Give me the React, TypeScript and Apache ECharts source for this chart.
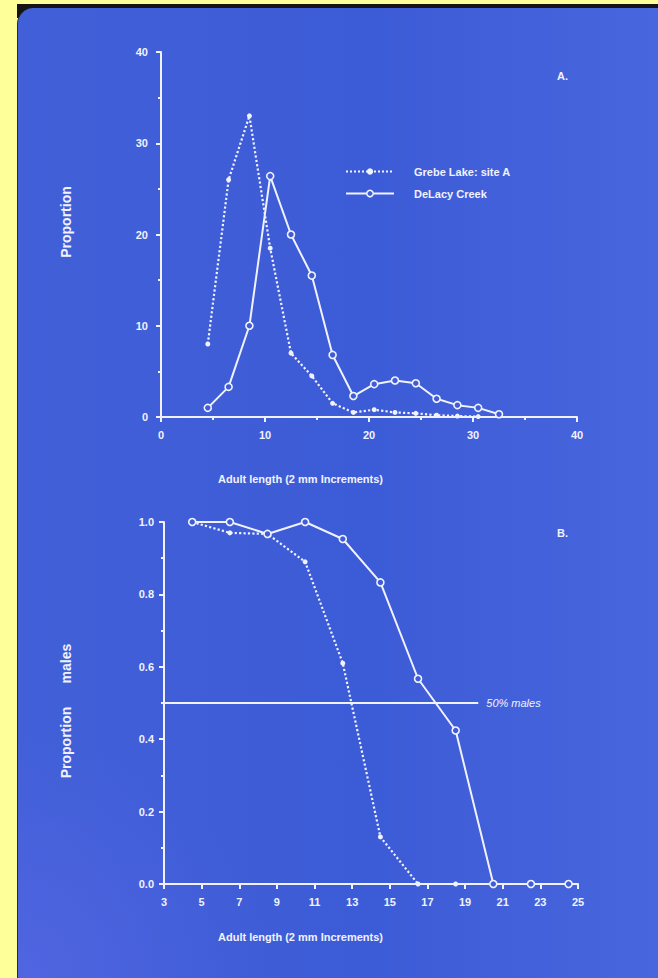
import React, { useEffect, useRef } from "react";
import * as echarts from "echarts";

// ---------- Panel A: length-frequency (proportion, %) ----------
const A_GREBE_X = [4.5, 6.5, 8.5, 10.5, 12.5, 14.5, 16.5, 18.5, 20.5, 22.5, 24.5, 26.5, 28.5, 30.5];
const A_GREBE_Y = [8, 26, 33, 18.5, 7, 4.5, 1.5, 0.5, 0.8, 0.5, 0.4, 0.2, 0.1, 0.05];
const A_DELACY_X = [4.5, 6.5, 8.5, 10.5, 12.5, 14.5, 16.5, 18.5, 20.5, 22.5, 24.5, 26.5, 28.5, 30.5, 32.5];
const A_DELACY_Y = [1, 3.3, 10, 26.4, 20, 15.5, 6.8, 2.3, 3.6, 4.0, 3.7, 2.0, 1.3, 1.0, 0.3];
const A_X_RANGE = [0, 40, 10];
const A_Y_RANGE = [0, 40, 10];

// ---------- Panel B: proportion males ----------
const B_GREBE_X = [4.5, 6.5, 8.5, 10.5, 12.5, 14.5, 16.5, 18.5];
const B_GREBE_Y = [1.0, 0.97, 0.967, 0.89, 0.61, 0.13, 0, 0];
const B_DELACY_X = [4.5, 6.5, 8.5, 10.5, 12.5, 14.5, 16.5, 18.5, 20.5, 22.5, 24.5];
const B_DELACY_Y = [1.0, 1.0, 0.967, 1.0, 0.953, 0.833, 0.567, 0.424, 0, 0, 0];
const B_X_RANGE = [3, 25, 2];
const B_Y_RANGE = [0, 1, 0.2];
const B_HALF_LINE = [3, 19.7, 0.5];

const SERIES_NAMES = ["Grebe Lake: site A", "DeLacy Creek"];
const X_TITLE = "Adult length (2 mm Increments)";

const FG = "#f1f2ff";
const BLUE = "#3f5dd7";
const FONT = "'Liberation Sans', Arial, sans-serif";

function axisBase(extra: any) {
  return {
    type: "value",
    axisLine: { show: true, lineStyle: { color: FG, width: 2 } },
    axisTick: { show: true, length: 5, lineStyle: { color: FG, width: 2 } },
    minorTick: { show: true, splitNumber: 2, length: 3, lineStyle: { color: FG, width: 2 } },
    splitLine: { show: false },
    axisLabel: { color: FG, fontSize: 11, fontWeight: "bold", fontFamily: FONT },
    ...extra,
  };
}

export default function App() {
  const ref = useRef<HTMLDivElement>(null);
  useEffect(() => {
    if (!ref.current) return;
    const chart = echarts.init(ref.current, null, { renderer: "svg" });
    const bOff = B_X_RANGE[0];
    const grebeStyle = {
      type: "line",
      symbol: "circle",
      symbolSize: 5,
      itemStyle: { color: FG },
      lineStyle: { color: FG, width: 2.2, type: "dotted" },
      z: 2,
    };
    const delacyStyle = {
      type: "line",
      symbol: "circle",
      symbolSize: 7,
      itemStyle: { color: BLUE, borderColor: FG, borderWidth: 1.6 },
      lineStyle: { color: FG, width: 2, type: "solid" },
      z: 3,
    };
    const lbl = { color: FG, fontSize: 11, fontWeight: "bold", fontFamily: FONT };
    chart.setOption({
      animation: false,
      backgroundColor: "transparent",
      grid: [
        { left: 161, right: 81, top: 52, bottom: 561 },
        { left: 164, right: 80, top: 522, bottom: 94 },
      ],
      xAxis: [
        axisBase({
          gridIndex: 0,
          min: A_X_RANGE[0],
          max: A_X_RANGE[1],
          interval: A_X_RANGE[2],
          axisLabel: { ...lbl, margin: 12 },
        }),
        axisBase({
          gridIndex: 1,
          min: 0,
          max: B_X_RANGE[1] - bOff,
          interval: B_X_RANGE[2],
          minorTick: { show: false },
          axisLabel: { ...lbl, margin: 12, formatter: (v: number) => String(v + bOff) },
        }),
      ],
      yAxis: [
        axisBase({
          gridIndex: 0,
          min: A_Y_RANGE[0],
          max: A_Y_RANGE[1],
          interval: A_Y_RANGE[2],
          axisLabel: { ...lbl, margin: 13 },
        }),
        axisBase({
          gridIndex: 1,
          min: B_Y_RANGE[0],
          max: B_Y_RANGE[1],
          interval: B_Y_RANGE[2],
          axisLabel: { ...lbl, margin: 10, formatter: (v: number) => v.toFixed(1) },
        }),
      ],
      legend: {
        orient: "vertical",
        left: 345,
        top: 166,
        padding: 0,
        itemWidth: 48,
        itemHeight: 8,
        itemGap: 11,
        textStyle: { ...lbl, padding: [0, 0, 0, 15] },
        data: [
          {
            name: SERIES_NAMES[0],
            itemStyle: { color: FG },
            lineStyle: { color: FG, width: 2, type: "dotted" },
          },
          {
            name: SERIES_NAMES[1],
            itemStyle: { color: BLUE, borderColor: FG, borderWidth: 1.5 },
            lineStyle: { color: FG, width: 2, type: "solid" },
          },
        ],
      },
      series: [
        {
          ...grebeStyle,
          name: SERIES_NAMES[0],
          xAxisIndex: 0,
          yAxisIndex: 0,
          data: A_GREBE_X.map((x, i) => [x, A_GREBE_Y[i]]),
        },
        {
          ...delacyStyle,
          name: SERIES_NAMES[1],
          xAxisIndex: 0,
          yAxisIndex: 0,
          data: A_DELACY_X.map((x, i) => [x, A_DELACY_Y[i]]),
        },
        {
          ...grebeStyle,
          name: SERIES_NAMES[0] + " (B)",
          xAxisIndex: 1,
          yAxisIndex: 1,
          data: B_GREBE_X.map((x, i) => [x - bOff, B_GREBE_Y[i]]),
        },
        {
          ...delacyStyle,
          name: SERIES_NAMES[1] + " (B)",
          xAxisIndex: 1,
          yAxisIndex: 1,
          data: B_DELACY_X.map((x, i) => [x - bOff, B_DELACY_Y[i]]),
          markLine: {
            silent: true,
            symbol: ["none", "none"],
            lineStyle: { color: FG, width: 2, type: "solid" },
            label: {
              show: true,
              position: "end",
              distance: 8,
              formatter: "50% males",
              color: FG,
              fontSize: 11,
              fontStyle: "italic",
              fontFamily: FONT,
            },
            data: [
              [
                { coord: [B_HALF_LINE[0] - bOff, B_HALF_LINE[2]] },
                { coord: [B_HALF_LINE[1] - bOff, B_HALF_LINE[2]] },
              ],
            ],
          },
        },
      ],
      graphic: [
        {
          type: "text",
          x: 557,
          y: 76,
          style: { text: "A.", fill: FG, font: `bold 11px ${FONT}`, align: "left", verticalAlign: "middle", textAlign: "left", textVerticalAlign: "middle" },
        },
        {
          type: "text",
          x: 557,
          y: 533,
          style: { text: "B.", fill: FG, font: `bold 11px ${FONT}`, align: "left", verticalAlign: "middle", textAlign: "left", textVerticalAlign: "middle" },
        },
        {
          type: "text",
          x: 218,
          y: 479,
          style: { text: X_TITLE, fill: FG, font: `bold 11px ${FONT}`, align: "left", verticalAlign: "middle", textAlign: "left", textVerticalAlign: "middle" },
        },
        {
          type: "text",
          x: 218,
          y: 937,
          style: { text: X_TITLE, fill: FG, font: `bold 11px ${FONT}`, align: "left", verticalAlign: "middle", textAlign: "left", textVerticalAlign: "middle" },
        },
        {
          type: "text",
          x: 66,
          y: 222,
          rotation: Math.PI / 2,
          style: { text: "Proportion", fill: FG, font: `bold 14px ${FONT}`, align: "center", verticalAlign: "middle", textAlign: "center", textVerticalAlign: "middle" },
        },
        {
          type: "text",
          x: 66,
          y: 711,
          rotation: Math.PI / 2,
          style: { text: "Proportion      males", fill: FG, font: `bold 14px ${FONT}`, align: "center", verticalAlign: "middle", textAlign: "center", textVerticalAlign: "middle" },
        },
      ],
    });
    return () => chart.dispose();
  }, []);

  return (
    <div style={{ position: "fixed", left: 0, top: 0, width: 658, height: 978, background: "#ffff99", overflow: "hidden" }}>
      <div style={{ position: "absolute", left: 17, top: 4, right: 0, height: 14, background: "#141414" }} />
      <div
        style={{
          position: "absolute",
          left: 17,
          top: 8,
          right: 0,
          bottom: 0,
          borderTopLeftRadius: 16,
          borderLeft: "1px solid #2a2a40",
          background:
            "radial-gradient(ellipse 40% 25% at 0% 100%, rgba(110,110,240,0.35), rgba(110,110,240,0) 100%), linear-gradient(90deg, #4160d8 0%, #3c5bd6 55%, #4866dd 100%)",
        }}
      />
      <div ref={ref} style={{ position: "absolute", left: 0, top: 0, width: 658, height: 978 }} />
    </div>
  );
}
